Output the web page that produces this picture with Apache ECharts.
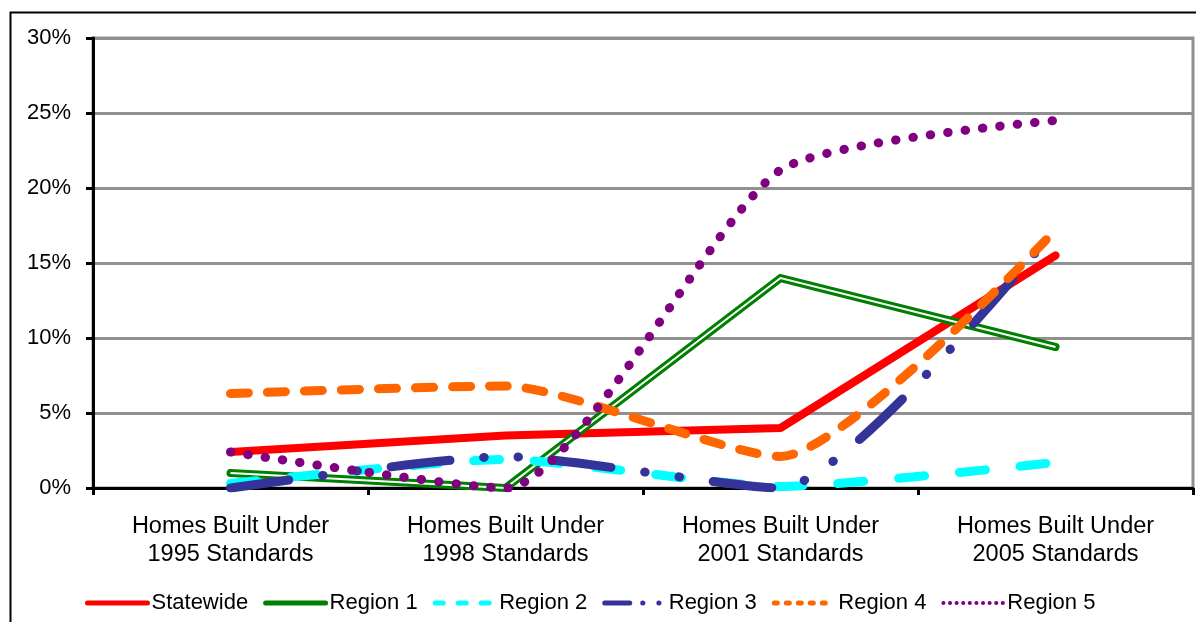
<!DOCTYPE html>
<html>
<head>
<meta charset="utf-8">
<script src="https://cdn.jsdelivr.net/npm/echarts@6/dist/echarts.min.js"></script>
<style>
  html, body { margin: 0; padding: 0; background: #fff; }
  #main { width: 1196px; height: 622px; }
</style>
</head>
<body>
<div id="main"></div>
<script>
// categories on the x axis
var categories = [
  'Homes Built Under\n1995 Standards',
  'Homes Built Under\n1998 Standards',
  'Homes Built Under\n2001 Standards',
  'Homes Built Under\n2005 Standards'
];

// values in percent
var statewide = [2.4, 3.5, 4.0, 15.5];
var region1   = [1.0, 0.0, 14.0, 9.4];
var region2   = [0.3, 1.9, 0.1, 1.7];
var region3   = [0.0, 2.1, 0.0, 17.3];
var region4   = [6.3, 6.8, 2.1, 17.2];
var region5   = [2.4, 0.0, 21.2, 24.5];

var legendNames = ['Statewide', 'Region 1', 'Region 2', 'Region 3', 'Region 4', 'Region 5'];

var dom = document.getElementById('main');
var myChart = echarts.init(dom);

var fontFam = '"Liberation Sans", Arial, sans-serif';
var sm = 0.2; // excel-ish smoothing

// legend icons use shorter dash patterns than the plot lines
var legendLine = {
  'Statewide': { color: '#FF0000', type: 'solid' },
  'Region 1':  { color: '#008000', type: 'solid' },
  'Region 2':  { color: '#00FFFF', type: [8, 15] },
  'Region 3':  { color: '#333399', type: [25, 13, 0.1, 16, 0.1, 30] },
  'Region 4':  { color: '#FF6600', type: [3, 9] },
  'Region 5':  { color: '#800080', type: [0.1, 6.5], width: 4 }
};

var legendData = legendNames.map(function (n) {
  var l = legendLine[n];
  return {
    name: n,
    itemStyle: { opacity: 0 },
    lineStyle: { color: l.color, type: l.type, width: l.width || 5, cap: 'round', opacity: 1 }
  };
});

var option = {
  backgroundColor: '#fff',
  animation: false,
  textStyle: { fontFamily: fontFam },
  graphic: [{
    type: 'rect',
    left: 8, top: 10,
    shape: { width: 1200, height: 630 },
    style: { fill: 'none', stroke: '#000', lineWidth: 2 },
    z: -1
  }],
  grid: {
    left: 93, right: 3, top: 38, bottom: 134,
    show: true,
    borderColor: '#909090',
    borderWidth: 3,
    backgroundColor: 'transparent'
  },
  legend: {
    data: legendData,
    top: 587,
    left: 80,
    itemWidth: 60,
    itemHeight: 8,
    itemGap: 15,
    textStyle: { fontSize: 22, color: '#000', fontFamily: fontFam, padding: [0, 0, 0, -1] }
  },
  xAxis: {
    type: 'category',
    data: categories,
    boundaryGap: true,
    axisLine: { lineStyle: { color: '#000', width: 3 } },
    axisTick: { show: true, length: 7, lineStyle: { color: '#000', width: 3 } },
    axisLabel: { fontSize: 23.5, color: '#000', lineHeight: 28, margin: 25, fontFamily: fontFam },
    splitLine: { show: false }
  },
  yAxis: {
    type: 'value',
    min: 0, max: 30, interval: 5,
    axisLine: { show: true, lineStyle: { color: '#000', width: 3 } },
    axisTick: { show: true, length: 7, lineStyle: { color: '#000', width: 3 } },
    axisLabel: { fontSize: 22, color: '#000', margin: 22, formatter: '{value}%', fontFamily: fontFam },
    splitLine: { lineStyle: { color: '#909090', width: 3 } }
  },
  series: [
    {
      name: 'Statewide', type: 'line', data: statewide, symbol: 'none',
      color: '#FF0000',
      lineStyle: { color: '#FF0000', width: 8, cap: 'round' }
    },
    {
      name: 'Region 1', type: 'line', data: region1, symbol: 'none',
      color: '#008000',
      lineStyle: { color: '#008000', width: 8, cap: 'round', join: 'miter' }
    },
    {
      // white core of the double green line
      name: 'Region 1 inner', type: 'line', data: region1, symbol: 'none',
      silent: true,
      lineStyle: { color: '#fff', width: 2, join: 'miter' }
    },
    {
      name: 'Region 2', type: 'line', data: region2, symbol: 'none', smooth: sm,
      color: '#00FFFF',
      lineStyle: { color: '#00FFFF', width: 9, cap: 'round', type: [26, 35] }
    },
    {
      name: 'Region 3', type: 'line', data: region3, symbol: 'none', smooth: sm,
      color: '#333399',
      lineStyle: { color: '#333399', width: 9, cap: 'round', type: [59, 34, 0.5, 34, 0.5, 34] }
    },
    {
      name: 'Region 4', type: 'line', data: region4, symbol: 'none', smooth: sm,
      color: '#FF6600',
      lineStyle: { color: '#FF6600', width: 9, cap: 'round', type: [18, 19] }
    },
    {
      name: 'Region 5', type: 'line', data: region5, symbol: 'none', smooth: sm,
      color: '#800080',
      lineStyle: { color: '#800080', width: 9, cap: 'round', type: [0.5, 17] }
    }
  ]
};

myChart.setOption(option, true);
</script>
</body>
</html>
